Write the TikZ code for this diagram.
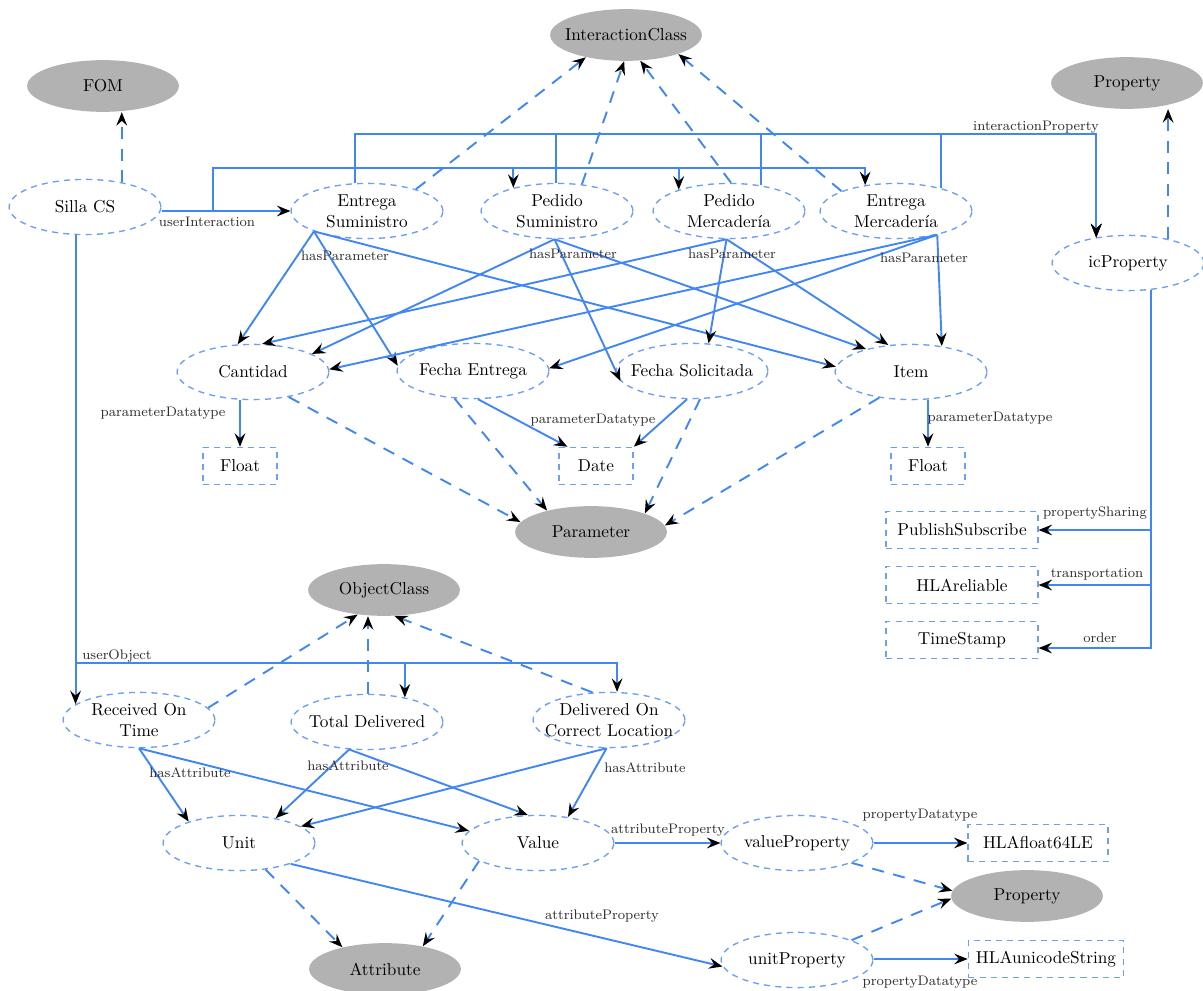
\documentclass[tikz,border=0pt]{standalone}
\usepackage{fontspec}
\usetikzlibrary{shapes.geometric,arrows.meta,calc}

\definecolor{edgeblue}{RGB}{64,134,245}
\definecolor{rimblue}{RGB}{110,160,240}
\definecolor{classgray}{RGB}{178,178,178}
\definecolor{labgray}{RGB}{45,45,45}

\tikzset{
  cls/.style={ellipse, fill=classgray, minimum width=88pt, minimum height=30pt,
    inner xsep=-16pt, inner ysep=-8pt},
  inst/.style={ellipse, draw=rimblue, line width=0.8pt, dash pattern=on 3.5pt off 3pt,
    minimum width=88pt, minimum height=32pt, inner xsep=-16pt, inner ysep=-8pt, align=center},
  dtype/.style={rectangle, draw=rimblue, line width=0.8pt, dash pattern=on 3.5pt off 3pt,
    minimum width=43pt, minimum height=21.5pt, inner sep=2pt},
  wide/.style={minimum width=88pt},
  link/.style={draw=edgeblue, line width=1.1pt,
    -{Stealth[black,length=7.8pt,width=6.2pt,inset=2.8pt]}},
  isa/.style={link, dash pattern=on 7pt off 5.5pt},
  lab/.style={font=\footnotesize, text=labgray, inner sep=1pt},
}

\begin{document}
\begin{tikzpicture}[x=0.58pt,y=-0.58pt]
\useasboundingbox (0,0) rectangle (1203,991);

% class nodes
\node[cls] (ic)    at (626,35)  {InteractionClass};
\node[cls] (fom)   at (103,86)  {FOM};
\node[cls] (prop1) at (1127,83) {Property};
\node[cls] (param) at (591,532) {Parameter};
\node[cls] (oc)    at (384,590) {ObjectClass};
\node[cls] (prop2) at (1027,896) {Property};
\node[cls] (attr)  at (385,969) {Attribute};

% instance nodes
\node[inst] (silla) at (85,207)  {Silla CS};
\node[inst] (es)    at (367,211) {Entrega\\Suministro};
\node[inst] (ps)    at (557,211) {Pedido\\Suministro};
\node[inst] (pm)    at (729,211) {Pedido\\Mercadería};
\node[inst] (em)    at (896,211) {Entrega\\Mercadería};
\node[inst] (icp)   at (1128,263) {icProperty};
\node[inst] (cant)  at (253,372) {Cantidad};
\node[inst] (fe)    at (473,371) {Fecha Entrega};
\node[inst] (fs)    at (692,371) {Fecha Solicitada};
\node[inst] (item)  at (911,372) {Item};
\node[inst] (rot)   at (139,720) {Received On\\Time};
\node[inst] (td)    at (367,722) {Total Delivered};
\node[inst] (docl)  at (609,720) {Delivered On\\Correct Location};
\node[inst] (unit)  at (239,843) {Unit};
\node[inst] (value) at (538,843) {Value};
\node[inst] (vp)    at (797,843) {valueProperty};
\node[inst] (up)    at (797,960) {unitProperty};

% datatype boxes
\node[dtype] (fl1)    at (240,466) {Float};
\node[dtype] (date)   at (596,466) {Date};
\node[dtype] (fl2)    at (928,466) {Float};
\node[dtype,wide] (pubsub) at (962,530) {PublishSubscribe};
\node[dtype,wide] (rel)    at (962,585) {HLAreliable};
\node[dtype,wide] (ts)     at (962,640) {TimeStamp};
\node[dtype,minimum width=81pt] (hf) at (1038,843) {HLAfloat64LE};
\node[dtype,minimum width=90pt] (hu) at (1046,959) {HLAunicodeString};

% class membership (dashed)
\draw[isa] (silla.34) -- (silla.34 |- fom.south);
\draw[isa] (es.24)  -- (ic.209);
\draw[isa] (ps.47)  -- (ic.-94);
\draw[isa] (pm.86)  -- (ic.-61);
\draw[isa] (em.160) -- (ic.-20);
\draw[isa] (icp.31) -- (icp.31 |- prop1.south);
\draw[isa] (cant.-35) -- (param.172);
\draw[isa] (fe.-124)  -- (param.154);
\draw[isa] (fs.-74)   -- (param.19);
\draw[isa] (item.-141) -- (param.5);
\draw[isa] (rot.10)   -- (oc.-137);
\draw[isa] (td.88) -- (td.88 |- oc.south);
\draw[isa] (docl.121) -- (oc.-68);
\draw[isa] (unit.-45) -- (attr.153);
\draw[isa] (value.197) -- (attr.31);
\draw[isa] (vp.-20) -- (prop2.176);
\draw[isa] (up.20)  -- (prop2.182);

% userInteraction
\draw[link] (silla.east |- es.west) -- (es.west);
\draw[link] (silla.east |- es.west) -| (213,168) -| (ps.152);
\draw[link] (silla.east |- es.west) -| (213,168) -| (pm.157);
\draw[link] (silla.east |- es.west) -| (213,168) -| (em.140);
\node[lab] at (207,222) {userInteraction};

% interactionProperty
\draw[link] (es.114) |- (icp.141 |- 0,134) -- (icp.141);
\draw[link] (ps.92)  |- (icp.141 |- 0,134) -- (icp.141);
\draw[link] (pm.39)  |- (icp.141 |- 0,134) -- (icp.141);
\draw[link] (em.27)  |- (icp.141 |- 0,134) -- (icp.141);
\node[lab] at (1036,127) {interactionProperty};

% hasParameter
\draw[link] (es.201) -- (cant.119);
\draw[link] (es.201) -- (fe.176);
\draw[link] (es.201) -- (item.176);
\draw[link] (ps.-95) -- (cant.17);
\draw[link] (ps.-95) -- (fs.188);
\draw[link] (ps.-95) -- (item.153);
\draw[link] (pm.-95) -- (cant.72);
\draw[link] (pm.-95) -- (fs.59);
\draw[link] (pm.-95) -- (item.130);
\draw[link] (em.-30) -- (cant.2);
\draw[link] (em.-30) -- (fe.2);
\draw[link] (em.-30) -- (item.40);
\node[lab] at (345,256) {hasParameter};
\node[lab] at (573,254) {hasParameter};
\node[lab] at (732,254) {hasParameter};
\node[lab] at (924,258) {hasParameter};

% parameterDatatype
\draw[link] (fl1.north |- cant.south) -- (fl1.north);
\draw[link] (fe.-80) -- (date.146);
\draw[link] (fs.-100) -- (date.north east);
\draw[link] (fl2.north |- item.south) -- (fl2.north);
\node[lab] at (163,413) {parameterDatatype};
\node[lab] at (593,420) {parameterDatatype};
\node[lab] at (990,418) {parameterDatatype};

% icProperty settings
\draw[link] (icp.-50) |- (pubsub.east);
\draw[link] (icp.-50) |- (rel.east);
\draw[link] (icp.-50) |- (ts.-6);
\node[lab] at (1095,513) {propertySharing};
\node[lab] at (1097,574) {transportation};
\node[lab] at (1100,638) {order};

% userObject
\draw[link] (rot.166 |- silla.south) -- (rot.166);
\draw[link] (rot.166 |- 0,663) -| (td.33);
\draw[link] (rot.166 |- 0,663) -| (docl.74);
\node[lab] at (117,656) {userObject};

% hasAttribute
\draw[link] (rot.south) -- (unit.157);
\draw[link] (rot.south) -- (value.170);
\draw[link] (td.-123) -- (unit.34);
\draw[link] (td.-123) -- (value.110);
\draw[link] (docl.-95) -- (unit.15);
\draw[link] (docl.-95) -- (value.41);
\node[lab] at (190,773) {hasAttribute};
\node[lab] at (348,766) {hasAttribute};
\node[lab] at (645,768) {hasAttribute};

% attributeProperty
\draw[link] (value.east) -- (vp.west);
\draw[link] (unit.-22) -- (up.185);
\node[lab] at (668,830) {attributeProperty};
\node[lab] at (602,916) {attributeProperty};

% propertyDatatype
\draw[link] (vp.east |- hf.west) -- (hf.west);
\draw[link] (up.east |- hu.west) -- (hu.west);
\node[lab] at (920,815) {propertyDatatype};
\node[lab] at (920,982) {propertyDatatype};
\end{tikzpicture}
\end{document}
